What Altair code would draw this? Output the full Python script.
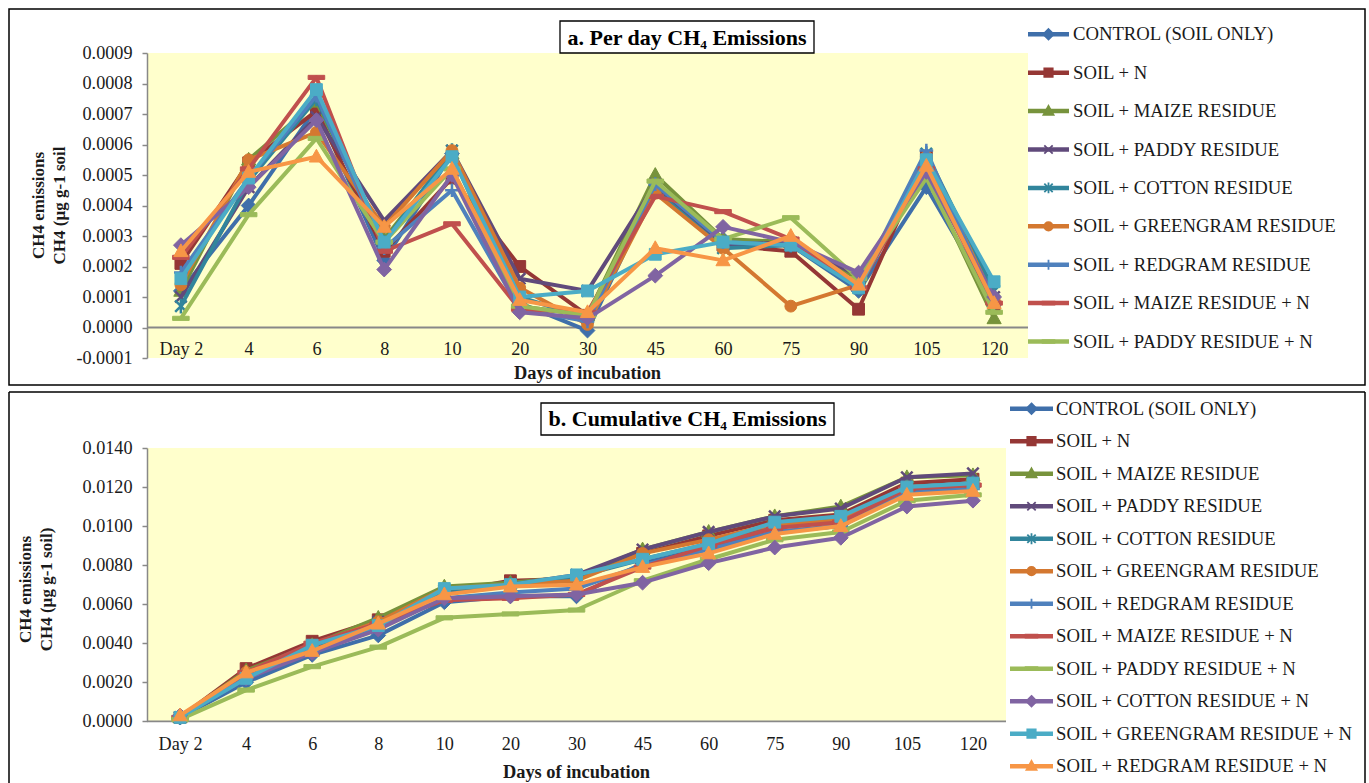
import altair as alt
import pandas as pd

# ---------------- data ----------------
days = ["Day 2", "4", "6", "8", "10", "20", "30", "45", "60", "75", "90", "105", "120"]

series_names = [
    "CONTROL (SOIL ONLY)",
    "SOIL + N",
    "SOIL + MAIZE RESIDUE",
    "SOIL + PADDY RESIDUE",
    "SOIL + COTTON RESIDUE",
    "SOIL + GREENGRAM RESIDUE",
    "SOIL + REDGRAM RESIDUE",
    "SOIL + MAIZE RESIDUE + N",
    "SOIL + PADDY RESIDUE + N",
    "SOIL + COTTON RESIDUE + N",
    "SOIL + GREENGRAM RESIDUE + N",
    "SOIL + REDGRAM RESIDUE + N",
]

# per day CH4 emissions (panel a)
pd_control     = [0.00012, 0.00040, 0.00072, 0.00022, 0.00057, 0.00008, -0.00001, 0.00046, 0.00029, 0.00027, 0.00012, 0.00046, 0.00008]
pd_soil_n      = [0.00021, 0.00054, 0.00071, 0.00025, 0.00049, 0.00020, 0.00004, 0.00045, 0.00027, 0.00025, 0.00006, 0.00056, 0.00007]
pd_maize       = [0.00012, 0.00055, 0.00074, 0.00029, 0.00057, 0.00007, 0.00004, 0.00050, 0.00029, 0.00028, 0.00016, 0.00050, 0.00003]
pd_paddy       = [0.00010, 0.00046, 0.00069, 0.00035, 0.00058, 0.00016, 0.00012, 0.00047, 0.00027, 0.00028, 0.00017, 0.00051, 0.00010]
pd_cotton      = [0.00007, 0.00048, 0.00075, 0.00028, 0.00058, 0.00010, 0.00003, 0.00045, 0.00026, 0.00027, 0.00013, 0.00057, 0.00012]
pd_greengram   = [0.00014, 0.00055, 0.00064, 0.00033, 0.00058, 0.00013, 0.00001, 0.00044, 0.00026, 0.00007, 0.00014, 0.00056, 0.00009]
pd_redgram     = [0.00018, 0.00049, 0.00076, 0.00026, 0.00045, 0.00006, 0.00002, 0.00047, 0.00028, 0.00027, 0.00014, 0.00058, 0.00007]
pd_maize_n     = [0.00023, 0.00052, 0.00082, 0.00025, 0.00034, 0.00006, 0.00005, 0.00043, 0.00038, 0.00029, 0.00013, 0.00052, 0.00008]
pd_paddy_n     = [0.00003, 0.00037, 0.00062, 0.00028, 0.00052, 0.00007, 0.00004, 0.00048, 0.00029, 0.00036, 0.00016, 0.00049, 0.00005]
pd_cotton_n    = [0.00027, 0.00046, 0.00068, 0.00019, 0.00050, 0.00005, 0.00003, 0.00017, 0.00033, 0.00028, 0.00018, 0.00051, 0.00010]
pd_greengram_n = [0.00016, 0.00049, 0.00078, 0.00028, 0.00056, 0.00010, 0.00012, 0.00024, 0.00028, 0.00027, 0.00013, 0.00055, 0.00015]
pd_redgram_n   = [0.00025, 0.00051, 0.00056, 0.00033, 0.00052, 0.00009, 0.00005, 0.00026, 0.00022, 0.00030, 0.00014, 0.00053, 0.00008]

# cumulative CH4 emissions (panel b)
cu_control     = [0.0002, 0.0020, 0.0034, 0.0044, 0.0061, 0.0064, 0.0064, 0.0081, 0.0089, 0.0097, 0.0100, 0.0118, 0.0120]
cu_soil_n      = [0.0002, 0.0027, 0.0041, 0.0052, 0.0066, 0.0072, 0.0073, 0.0086, 0.0095, 0.0103, 0.0106, 0.0122, 0.0124]
cu_maize       = [0.0002, 0.0026, 0.0039, 0.0053, 0.0069, 0.0071, 0.0074, 0.0088, 0.0097, 0.0105, 0.0110, 0.0125, 0.0126]
cu_paddy       = [0.0002, 0.0024, 0.0038, 0.0051, 0.0067, 0.0070, 0.0075, 0.0088, 0.0097, 0.0105, 0.0109, 0.0125, 0.0127]
cu_cotton      = [0.0002, 0.0023, 0.0038, 0.0050, 0.0067, 0.0070, 0.0074, 0.0083, 0.0091, 0.0100, 0.0104, 0.0120, 0.0122]
cu_greengram   = [0.0002, 0.0025, 0.0039, 0.0051, 0.0068, 0.0070, 0.0072, 0.0086, 0.0093, 0.0101, 0.0103, 0.0120, 0.0121]
cu_redgram     = [0.0002, 0.0022, 0.0036, 0.0048, 0.0063, 0.0066, 0.0068, 0.0080, 0.0088, 0.0097, 0.0100, 0.0117, 0.0119]
cu_maize_n     = [0.0002, 0.0025, 0.0040, 0.0050, 0.0062, 0.0063, 0.0065, 0.0079, 0.0090, 0.0099, 0.0102, 0.0119, 0.0121]
cu_paddy_n     = [0.0001, 0.0016, 0.0028, 0.0038, 0.0053, 0.0055, 0.0057, 0.0072, 0.0083, 0.0093, 0.0097, 0.0113, 0.0116]
cu_cotton_n    = [0.0003, 0.0022, 0.0035, 0.0047, 0.0063, 0.0064, 0.0065, 0.0071, 0.0081, 0.0089, 0.0094, 0.0110, 0.0113]
cu_greengram_n = [0.0002, 0.0022, 0.0039, 0.0049, 0.0068, 0.0070, 0.0075, 0.0083, 0.0091, 0.0102, 0.0105, 0.0120, 0.0122]
cu_redgram_n   = [0.0003, 0.0025, 0.0036, 0.0050, 0.0065, 0.0069, 0.0070, 0.0079, 0.0086, 0.0096, 0.0100, 0.0116, 0.0118]

perday = [pd_control, pd_soil_n, pd_maize, pd_paddy, pd_cotton, pd_greengram, pd_redgram,
          pd_maize_n, pd_paddy_n, pd_cotton_n, pd_greengram_n, pd_redgram_n]
cumulative = [cu_control, cu_soil_n, cu_maize, cu_paddy, cu_cotton, cu_greengram, cu_redgram,
              cu_maize_n, cu_paddy_n, cu_cotton_n, cu_greengram_n, cu_redgram_n]

# ---------------- styles ----------------
colors = ["#3F6FAA", "#953735", "#77933C", "#604A7B", "#31859C", "#D47830",
          "#4F81BD", "#C0504D", "#9BBB59", "#8064A2", "#4BACC6", "#F79646"]
DIAMOND = "M0,-1.25L1.25,0L0,1.25L-1.25,0Z"
SQUARE = "M-1,-1L1,-1L1,1L-1,1Z"
TRIANGLE = "M0,-1.25L1.2,0.9L-1.2,0.9Z"
XMARK = "M-1,-1L1,1M-1,1L1,-1"
STAR = "M-1,-1L1,1M-1,1L1,-1M0,-1.3L0,1.3"
PLUS = "M-1.2,0L1.2,0M0,-1.2L0,1.2"
DASH = "M-1.4,-0.35L1.4,-0.35L1.4,0.35L-1.4,0.35Z"
shapes = [DIAMOND, SQUARE, TRIANGLE, XMARK, STAR, "circle", PLUS, DASH, DASH, DIAMOND, SQUARE, TRIANGLE]
open_marker = [False, False, False, True, True, False, True, False, False, False, False, False]

SERIF = "Liberation Serif"
TEXT = "#1a1a1a"
GRAY = "#888888"
YELLOW = "#FFFFCC"
LABEL_EXPR = "replace(format(datum.value, '.4f'), '\u2212', '-')"

yticks_a = [round(-0.0001 + k * 0.0001, 6) for k in range(11)]
yticks_b = [round(k * 0.002, 6) for k in range(8)]

color_scale = alt.Scale(domain=series_names, range=colors)
shape_scale = alt.Scale(domain=series_names, range=shapes)


def panel(matrix, n_legend, title, ytitle, yticks, c, full_border):
    W, H = c["W"], c["H"]
    x0, x1 = c["x0"], c["x1"]
    ymin, ymax = c["ydom"]
    xscale = alt.Scale(type="point", domain=days, range=[x0, x1], padding=0.5)
    yscale = alt.Scale(domain=[ymin, ymax], range=[c["ybot"], c["ytop"]], nice=False, zero=False)
    yaxis = alt.Axis(values=yticks, labelExpr=LABEL_EXPR, offset=-x0, grid=False, zindex=1,
                     domainColor=GRAY, domainWidth=1.5, tickColor=GRAY, tickWidth=1.5, tickSize=5,
                     labelFont=SERIF, labelFontSize=18.2, labelColor=TEXT, labelPadding=10,
                     title=ytitle, titleFont=SERIF, titleFontSize=17, titleFontWeight="bold",
                     titleColor=TEXT, titleAngle=270, titleAlign="center", titleBaseline="middle",
                     titleLineHeight=21, titleX=c["ytx"] - x0, titleY=c["yty"])
    xaxis = alt.Axis(orient="bottom", offset=c["xlab_y"] - H, domain=False, ticks=False, tickSize=0,
                     grid=False, zindex=1, labelAngle=0, labelPadding=0, labelBaseline="middle",
                     labelFont=SERIF, labelFontSize=18.2, labelColor=TEXT,
                     title="Days of incubation", titleFont=SERIF, titleFontSize=18.4,
                     titleFontWeight="bold", titleColor=TEXT, titleAlign="center",
                     titleBaseline="middle", titleX=c["xtx"], titleY=c["xty"] - c["xlab_y"])

    one = pd.DataFrame({"k": [0]})
    layers = []
    # plot area background
    layers.append(alt.Chart(one).mark_rect(fill=YELLOW).encode(
        x=alt.value(x0), x2=alt.value(x1),
        y=alt.YDatum(ymin, type="quantitative", scale=yscale, axis=yaxis),
        y2=alt.Y2Datum(ymax)))
    # zero line
    layers.append(alt.Chart(one).mark_rule(color=GRAY, strokeWidth=1.8).encode(
        x=alt.value(x0), x2=alt.value(x1),
        y=alt.YDatum(0, type="quantitative", scale=yscale, axis=yaxis)))
    # series, drawn in Excel order (line, then markers)
    for i, name in enumerate(series_names):
        d = pd.DataFrame({"day": days, "value": matrix[i], "i": list(range(len(days)))})
        base = alt.Chart(d).encode(
            x=alt.X("day:N", scale=xscale, axis=xaxis, sort=days),
            y=alt.Y("value:Q", scale=yscale, axis=yaxis),
            order=alt.Order("i:Q"))
        layers.append(base.mark_line(color=colors[i], strokeWidth=4, strokeJoin="round", opacity=1))
        if open_marker[i]:
            layers.append(base.mark_point(shape=shapes[i], size=130, filled=False, stroke=colors[i],
                                          strokeWidth=2.5, opacity=1))
        else:
            layers.append(base.mark_point(shape=shapes[i], size=140, filled=True, color=colors[i],
                                          fill=colors[i], stroke=colors[i], strokeWidth=1, opacity=1))
    # title box
    layers.append(alt.Chart(one).mark_rect(fill="white", stroke="black", strokeWidth=1.3).encode(
        x=alt.value(c["bx0"]), x2=alt.value(c["bx1"]), y=alt.value(c["by0"]), y2=alt.value(c["by1"])))
    layers.append(alt.Chart(pd.DataFrame({"t": [title]})).mark_text(
        font=SERIF, fontSize=22, fontWeight="bold", align="center", baseline="middle", color="black"
    ).encode(x=alt.value(c["tx"]), y=alt.value(c["ty"]), text="t:N"))
    # panel border (open at the bottom for the lower panel)
    if not full_border:
        layers.append(alt.Chart(one).mark_rule(color="black", strokeWidth=1.5).encode(
            x=alt.value(0), y=alt.value(0), y2=alt.value(H)))
        layers.append(alt.Chart(one).mark_rule(color="black", strokeWidth=1.5).encode(
            x=alt.value(0), x2=alt.value(W), y=alt.value(0)))
        layers.append(alt.Chart(one).mark_rule(color="black", strokeWidth=1.5).encode(
            x=alt.value(W), y=alt.value(0), y2=alt.value(H)))

    plot = alt.layer(*layers)

    # legend
    leg = pd.DataFrame({"series": series_names[:n_legend], "idx": list(range(n_legend))})
    ly = alt.Y("idx:O", axis=None,
               scale=alt.Scale(type="point", domain=list(range(n_legend)), padding=0,
                               range=[c["ly0"], c["ly0"] + (n_legend - 1) * c["lstep"]]))
    lrule = alt.Chart(leg).mark_rule(strokeWidth=4.5).encode(
        x=alt.value(c["lx0"]), x2=alt.value(c["lx1"]), y=ly,
        stroke=alt.Stroke("series:N", scale=color_scale, legend=None))
    lpts = alt.Chart(leg).mark_point(size=70, strokeWidth=1.8, opacity=1).encode(
        x=alt.value((c["lx0"] + c["lx1"]) / 2), y=ly,
        shape=alt.Shape("series:N", scale=shape_scale, legend=None),
        fill=alt.Fill("series:N", scale=color_scale, legend=None),
        stroke=alt.Stroke("series:N", scale=color_scale, legend=None))
    ltxt = alt.Chart(leg).mark_text(align="left", baseline="middle", font=SERIF, fontSize=18.7,
                                    color=TEXT).encode(
        x=alt.value(c["ltx"]), y=ly, text="series:N")
    legend = alt.layer(lrule, lpts, ltxt)

    out = alt.layer(plot, legend).resolve_scale(y="independent").properties(width=W, height=H)
    if full_border:
        out = out.properties(view=alt.ViewBackground(stroke="black", strokeWidth=1.5, fill="white"))
    return out


cfg_a = dict(W=1356, H=376, x0=138, x1=1019, ydom=(-0.0001, 0.0009), ybot=349, ytop=44,
             ytx=29, yty=196, xlab_y=340, xtx=578, xty=363,
             bx0=551, bx1=805, by0=12, by1=44, tx=678, ty=29,
             lx0=1019, lx1=1060, ltx=1064, ly0=25.3, lstep=38.4)
cfg_b = dict(W=1356, H=394, x0=138, x1=997, ydom=(0.0, 0.014), ybot=329.3, ytop=56,
             ytx=16, yty=197, xlab_y=352, xtx=567, xty=379,
             bx0=532, bx1=825, by0=11, by1=43, tx=678.5, ty=27,
             lx0=1001, lx1=1044, ltx=1047, ly0=16.7, lstep=32.5)

top = panel(perday, 9, "a. Per day CH\u2084 Emissions",
            ["CH4 emissions", "CH4 (\u00b5g g-1 soil"], yticks_a, cfg_a, True)
bottom = panel(cumulative, 12, "b. Cumulative CH\u2084 Emissions",
               ["CH4 emissions", "CH4 (\u00b5g g-1 soil)"], yticks_b, cfg_b, False)

chart = alt.vconcat(top, bottom, spacing=5).properties(
    padding={"left": 8, "top": 8, "right": 0, "bottom": 0},
    background="white",
).configure_view(strokeWidth=0)

chart.save("out.html", embed_options={"renderer": "svg", "actions": False})
